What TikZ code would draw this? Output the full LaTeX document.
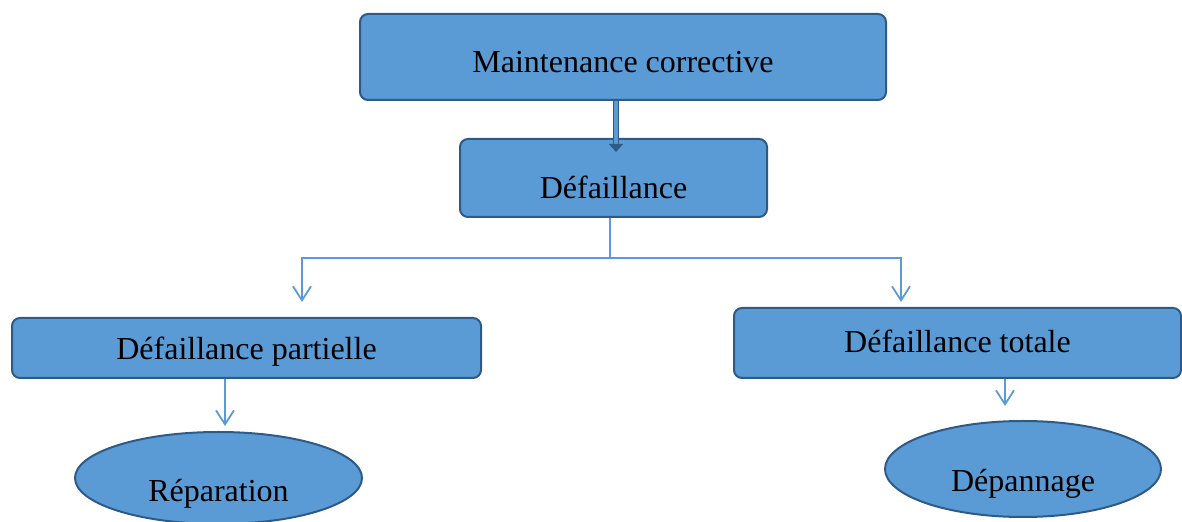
\documentclass[tikz,border=0pt]{standalone}
\usepackage{fontspec}
\setmainfont{Liberation Serif}
\usepackage{tikz}
\usetikzlibrary{arrows.meta,positioning,shapes.geometric}
\definecolor{boxfill}{HTML}{5B9BD5}
\definecolor{boxline}{HTML}{2E5A88}
\definecolor{linkcol}{HTML}{5B9BD5}
\newcommand{\txtshift}[2]{\raisebox{#1}[\height][\depth]{#2}}
\tikzset{
  box/.style={draw=boxline,fill=boxfill,rounded corners=4pt,line width=1pt,align=center,
    font=\fontsize{16}{19}\selectfont,inner sep=0pt},
  oval/.style={ellipse,draw=boxline,fill=boxfill,line width=1pt,inner sep=0pt,
    font=\fontsize{16}{19}\selectfont},
  link/.style={draw=linkcol,line width=0.6pt},
  linkarr/.style={-{Straight Barb[length=7pt,width=9pt]},draw=linkcol,line width=0.9pt},
  dblarr/.style={-{Triangle[length=4pt,width=7pt]},draw=boxline,double=boxfill,
    double distance=1.6pt,line width=0.9pt}
}
\begin{document}
\begin{tikzpicture}[x=0.5pt,y=-0.5pt]
  \useasboundingbox (0,0) rectangle (1182,522);
  \node[box,minimum width=263pt,minimum height=43pt] (mc) at (623,57)
    {\txtshift{-2.5pt}{Maintenance corrective}};
  \node[box,minimum width=153.5pt,minimum height=39pt] (def) at (613.5,178)
    {\txtshift{-4.5pt}{Défaillance}};
  \node[box,minimum width=234.5pt,minimum height=30pt] (part) at (246.5,348)
    {\txtshift{-2pt}{Défaillance partielle}};
  \node[box,minimum width=223.5pt,minimum height=35pt] (tot) at (957.5,343)
    {\txtshift{1pt}{Défaillance totale}};
  \node[oval,minimum width=143.5pt,minimum height=46pt] (rep) at (218.5,478)
    {\txtshift{-8pt}{Réparation}};
  \node[oval,minimum width=138pt,minimum height=48pt] (dep) at (1023,469)
    {\txtshift{-7.5pt}{Dépannage}};
  % liens
  \draw[dblarr] ([xshift=-3.5pt]mc.south) -- ([xshift=1.25pt,yshift=-7pt]def.north);
  \draw[link] ([xshift=-1.75pt]def.south) -- ++(0,40) coordinate (split);
  \coordinate (lend) at (302,302);
  \coordinate (rend) at (901,302);
  \draw[linkarr] (split) -| (lend);
  \draw[linkarr] (split) -| (rend);
  \draw[linkarr] ([xshift=-10.75pt]part.south) -- ++(0,47);
  \draw[linkarr] ([xshift=23.75pt]tot.south) -- ++(0,27);
\end{tikzpicture}
\end{document}
